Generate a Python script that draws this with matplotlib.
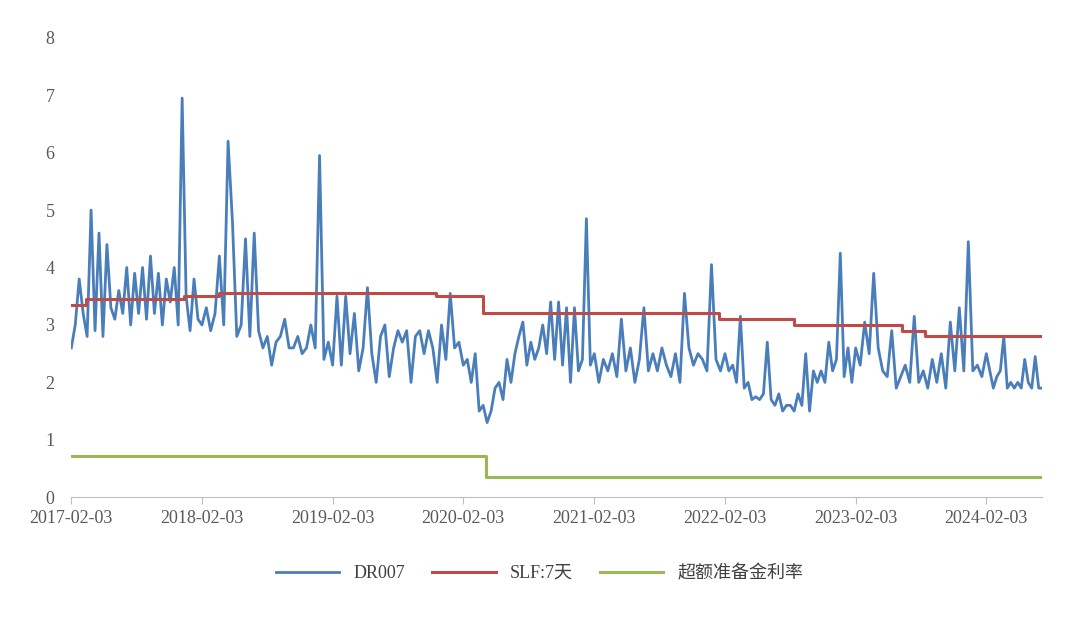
import matplotlib
matplotlib.use("Agg")
import matplotlib.pyplot as plt
import matplotlib.dates as mdates
import numpy as np
import pandas as pd

plt.rcParams['font.family'] = ['Liberation Serif', 'Noto Sans CJK SC', 'DejaVu Sans']

# DR007 readings per year (evenly spread within each segment)
dr_2017 = [2.6, 3.0, 3.8, 3.2, 2.8, 5.0, 2.9, 4.6, 2.8, 4.4, 3.3, 3.1, 3.6, 3.2, 4.0, 3.0, 3.9, 3.2, 4.0, 3.1,
           4.2, 3.2, 3.9, 3.0, 3.8, 3.4, 4.0, 3.0, 6.95, 3.5, 2.9, 3.8, 3.1]
dr_2018 = [3.0, 3.3, 2.9, 3.2, 4.2, 3.0, 6.2, 4.8, 2.8, 3.0, 4.5, 2.8, 4.6, 2.9, 2.6, 2.8, 2.3, 2.7, 2.8, 3.1,
           2.6, 2.6, 2.8, 2.5, 2.6, 3.0, 2.6, 5.95, 2.4, 2.7]
dr_2019 = [2.3, 3.5, 2.3, 3.5, 2.5, 3.2, 2.2, 2.6, 3.65, 2.5, 2.0, 2.8, 3.0, 2.1, 2.6, 2.9, 2.7, 2.9, 2.0, 2.8,
           2.9, 2.5, 2.9, 2.6, 2.0, 3.0, 2.4, 3.55, 2.6, 2.7]
dr_2020 = [2.3, 2.4, 2.0, 2.5, 1.5, 1.6, 1.3, 1.5, 1.9, 2.0, 1.7, 2.4, 2.0, 2.5, 2.8, 3.05, 2.3, 2.7, 2.4, 2.6,
           3.0, 2.5, 3.4, 2.4, 3.4, 2.3, 3.3, 2.0, 3.3, 2.2, 2.4, 4.85, 2.3]
dr_2021 = [2.5, 2.0, 2.4, 2.2, 2.5, 2.1, 3.1, 2.2, 2.6, 2.0, 2.4, 3.3, 2.2, 2.5, 2.2, 2.6, 2.3, 2.1, 2.5, 2.0,
           3.55, 2.6, 2.3, 2.5, 2.4, 2.2, 4.05, 2.4, 2.2]
dr_2022 = [2.5, 2.2, 2.3, 2.0, 3.15, 1.9, 2.0, 1.7, 1.75, 1.7, 1.8, 2.7, 1.7, 1.6, 1.8, 1.5, 1.6, 1.6, 1.5, 1.8,
           1.6, 2.5, 1.5, 2.2, 2.0, 2.2, 2.0, 2.7, 2.2, 2.4, 4.25, 2.1, 2.6, 2.0]
dr_2023 = [2.6, 2.3, 3.05, 2.5, 3.9, 2.6, 2.2, 2.1, 2.9, 1.9, 2.1, 2.3, 2.0, 3.15, 2.0, 2.2, 1.9, 2.4, 2.0, 2.5,
           1.9, 3.05, 2.2, 3.3, 2.2, 4.45, 2.2, 2.3, 2.1]
dr_2024 = [2.5, 2.2, 1.9, 2.1, 2.2, 2.8, 1.9, 2.0, 1.9, 2.0, 1.9, 2.4, 2.0, 1.9, 2.45, 1.9]
year_starts = ["2017-02-03", "2018-02-03", "2019-02-03", "2020-02-03", "2021-02-03",
               "2022-02-03", "2023-02-03", "2024-02-03", "2024-07-08"]

# SLF 7-day rate steps
slf_dates = ["2017-02-03", "2017-03-16", "2017-12-14", "2018-03-22", "2019-11-18", "2020-03-30",
             "2022-01-17", "2022-08-15", "2023-06-13", "2023-08-15", "2024-07-08"]
slf_values = [3.35, 3.45, 3.50, 3.55, 3.50, 3.20, 3.10, 3.00, 2.90, 2.80, 2.80]

# Excess reserve rate
er_dates = ["2017-02-03", "2020-04-07", "2024-07-08"]
er_values = [0.72, 0.35, 0.35]

xtick_labels = ["2017-02-03", "2018-02-03", "2019-02-03", "2020-02-03",
                "2021-02-03", "2022-02-03", "2023-02-03", "2024-02-03"]

# build DR007 series
segs = [dr_2017, dr_2018, dr_2019, dr_2020, dr_2021, dr_2022, dr_2023, dr_2024]
dr_x, dr_y = [], []
for i, seg in enumerate(segs):
    a = mdates.date2num(pd.Timestamp(year_starts[i]))
    b = mdates.date2num(pd.Timestamp(year_starts[i + 1]))
    n = len(seg)
    for k, v in enumerate(seg):
        dr_x.append(a + (b - a) * k / n)
        dr_y.append(v)
dr_x.append(mdates.date2num(pd.Timestamp(year_starts[-1])))
dr_y.append(segs[-1][-1])

fig = plt.figure(figsize=(10.8, 6.2), dpi=100)
ax = fig.add_axes([0.066, 0.198, 0.899, 0.741])

ax.plot(dr_x, dr_y, color='#4a7ebb', lw=2, label='DR007')
ax.step(mdates.date2num(pd.to_datetime(slf_dates)), slf_values, where='post', color='#be4b48', lw=2.2, label='SLF:7天')
ax.step(mdates.date2num(pd.to_datetime(er_dates)), er_values, where='post', color='#98b954', lw=2.2, label='超额准备金利率')

x0 = mdates.date2num(pd.Timestamp(year_starts[0]))
x1 = mdates.date2num(pd.Timestamp(year_starts[-1]))
ax.set_xlim(x0, x1)
ax.set_ylim(0, 8)
ax.set_yticks(range(0, 9))
ax.set_xticks(mdates.date2num(pd.to_datetime(xtick_labels)))
ax.set_xticklabels(xtick_labels)
for s in ['top', 'right', 'left']:
    ax.spines[s].set_visible(False)
ax.spines['bottom'].set_color('#bfbfbf')
ax.tick_params(axis='y', length=0, labelsize=13, colors='#595959', pad=12)
ax.tick_params(axis='x', length=5, color='#bfbfbf', labelsize=13, colors='#595959', pad=4)

fig.legend(loc='lower center', bbox_to_anchor=(0.5, 0.035), ncol=3, frameon=False, fontsize=13,
           handlelength=3.5, columnspacing=1.5, labelcolor='#404040')
fig.savefig('out.png', dpi=100)
